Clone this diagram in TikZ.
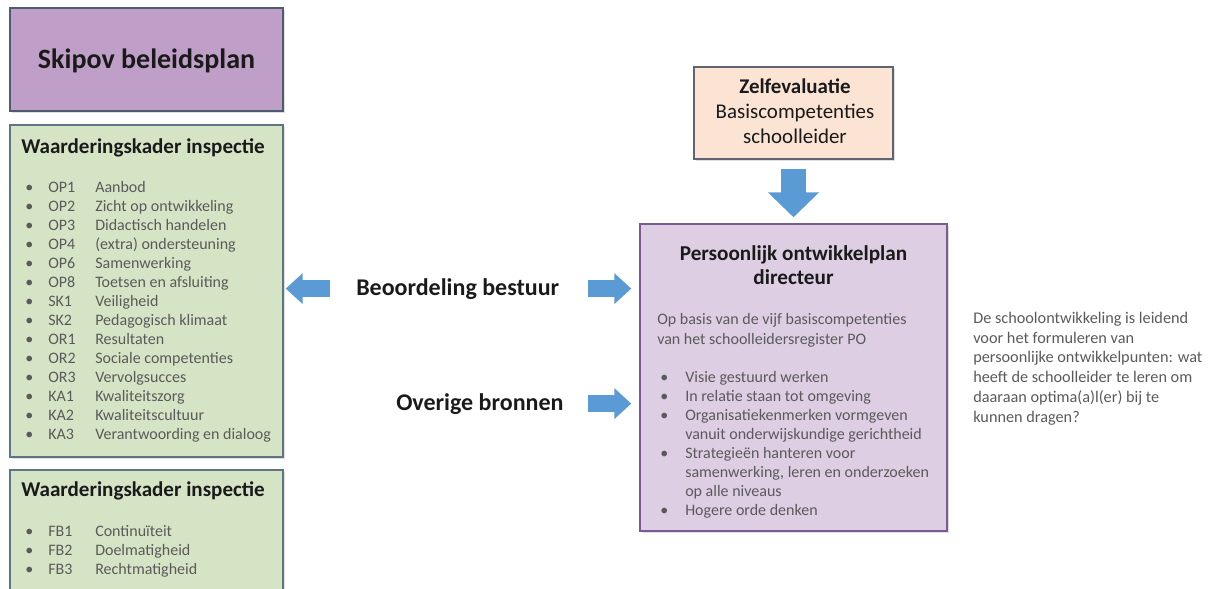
\documentclass[tikz,border=0pt]{standalone}
\usepackage{fontspec}
\setmainfont{Carlito}
\usepackage{xcolor}
\usetikzlibrary{positioning,fit,shadows,arrows.meta}
\definecolor{skipovfill}{HTML}{BF9FC7}
\definecolor{skipovline}{HTML}{4F5B6E}
\definecolor{kaderfill}{HTML}{D6E4C6}
\definecolor{kaderline}{HTML}{5E7683}
\definecolor{zelffill}{HTML}{FCE4D4}
\definecolor{zelfline}{HTML}{5F6470}
\definecolor{planfill}{HTML}{DECEE3}
\definecolor{planline}{HTML}{7A5A91}
\definecolor{arrowblue}{HTML}{5B9BD5}
\definecolor{textdark}{HTML}{1A1A1A}
\definecolor{textgrey}{HTML}{5A5A5A}

\begin{document}
\begin{tikzpicture}[x=0.75pt,y=-0.75pt,
    box/.style={draw,line width=1.1pt,inner sep=0pt,
      drop shadow={opacity=0.25,shadow xshift=1.5pt,shadow yshift=-1.5pt}},
    label/.style={inner sep=0pt,text=textdark},
    items/.style={inner sep=0pt,text=textgrey,font=\fontsize{12}{14.3}\selectfont},
    hbigarrow/.style={arrowblue,line width=12.75pt,-{Triangle[length=12.75pt,width=22.5pt]}},
    vbigarrow/.style={arrowblue,line width=18.75pt,-{Triangle[length=18.75pt,width=37.5pt]}}]
    \useasboundingbox (0,0) rectangle (1211,589);

    % Left column boxes
    \node[box,fill=skipovfill,draw=skipovline,fit={(10,8) (283,111)}] (skipov) {};
    \node[label,anchor=base,font=\fontsize{21}{25}\selectfont\bfseries] (skipovtitle) at (146.5,68) {Skipov beleidsplan};

    \node[box,fill=kaderfill,draw=kaderline,fit={(10,125) (283,457)}] (kaderone) {};
    \node[label,anchor=base west,font=\fontsize{15.8}{18}\selectfont\bfseries] (kaderonetitle) at (21,153) {Waarderingskader inspectie};
    \node[items,anchor=base west] (kaderonelist) at (25,192) {%
      \begin{tabular}[t]{@{}p{17.25pt}@{}p{35.25pt}@{}l@{}}
        • & OP1 & Aanbod\\
        • & OP2 & Zicht op ontwikkeling\\
        • & OP3 & Didactisch handelen\\
        • & OP4 & (extra) ondersteuning\\
        • & OP6 & Samenwerking\\
        • & OP8 & Toetsen en afsluiting\\
        • & SK1 & Veiligheid\\
        • & SK2 & Pedagogisch klimaat\\
        • & OR1 & Resultaten\\
        • & OR2 & Sociale competenties\\
        • & OR3 & Vervolgsucces\\
        • & KA1 & Kwaliteitszorg\\
        • & KA2 & Kwaliteitscultuur\\
        • & KA3 & Verantwoording en dialoog
      \end{tabular}};

    \node[box,fill=kaderfill,draw=kaderline,fit={(10,470) (283,600)}] (kadertwo) {};
    \node[label,anchor=base west,font=\fontsize{15.8}{18}\selectfont\bfseries] (kadertwotitle) at (21,496) {Waarderingskader inspectie};
    \node[items,anchor=base west] (kadertwolist) at (25,536) {%
      \begin{tabular}[t]{@{}p{17.25pt}@{}p{35.25pt}@{}l@{}}
        • & FB1 & Continuïteit\\
        • & FB2 & Doelmatigheid\\
        • & FB3 & Rechtmatigheid
      \end{tabular}};

    % Sources in the middle
    \node[label,anchor=base west,font=\fontsize{18}{21}\selectfont\bfseries] (bestuur) at (356,295) {Beoordeling bestuur};
    \node[label,anchor=base west,font=\fontsize{18}{21}\selectfont\bfseries] (bronnen) at (396,410) {Overige bronnen};

    % Zelfevaluatie
    \node[box,fill=zelffill,draw=zelfline,fit={(694,67) (893,159)}] (zelf) {};
    \node[label,anchor=base,align=center,font=\fontsize{15.7}{18.75}\selectfont] (zelftext) at (795,143)
      {\textbf{Zelfevaluatie}\\Basiscompetenties\\schoolleider};

    % Persoonlijk ontwikkelplan
    \node[box,fill=planfill,draw=planline,fit={(640,224) (947,531)}] (plan) {};
    \node[label,anchor=base,align=center,font=\fontsize{15.9}{17.5}\selectfont\bfseries] (plantitle) at (793.5,284)
      {Persoonlijk ontwikkelplan\\directeur};
    \node[label,anchor=base west,align=left,text=textgrey,font=\fontsize{12}{15}\selectfont] (planintro) at (657,344)
      {Op basis van de vijf basiscompetenties\\van het schoolleidersregister PO};
    \node[items,anchor=base west] (planlist) at (660,382) {%
      \begin{tabular}[t]{@{}p{18.75pt}@{}l@{}}
        • & Visie gestuurd werken\\
        • & In relatie staan tot omgeving\\
        • & Organisatiekenmerken vormgeven\\
          & vanuit onderwijskundige gerichtheid\\
        • & Strategieën hanteren voor\\
          & samenwerking, leren en onderzoeken\\
          & op alle niveaus\\
        • & Hogere orde denken
      \end{tabular}};

    % Note on the right
    \node[label,anchor=base west,align=left,text=textgrey,font=\fontsize{12.2}{14.8}\selectfont] (note) at (973,422)
      {De schoolontwikkeling is leidend\\voor het formuleren van\\persoonlijke ontwikkelpunten: wat\\heeft de schoolleider te leren om\\daaraan optima(a)l(er) bij te\\kunnen dragen?};

    % Block arrows
    \draw[hbigarrow,shorten <=19.5pt,shorten >=1.5pt] (bestuur.west) -- (kaderone.east |- bestuur.west);
    \draw[hbigarrow,shorten <=21.75pt,shorten >=6pt] (bestuur.east) -- (plan.west |- bestuur.east);
    \draw[hbigarrow,shorten <=18pt,shorten >=6pt] (bronnen.east) -- (plan.west |- bronnen.east);
    \draw[vbigarrow,shorten <=6.75pt,shorten >=4.5pt] (zelf.south) -- (plan.north);
\end{tikzpicture}
\end{document}
